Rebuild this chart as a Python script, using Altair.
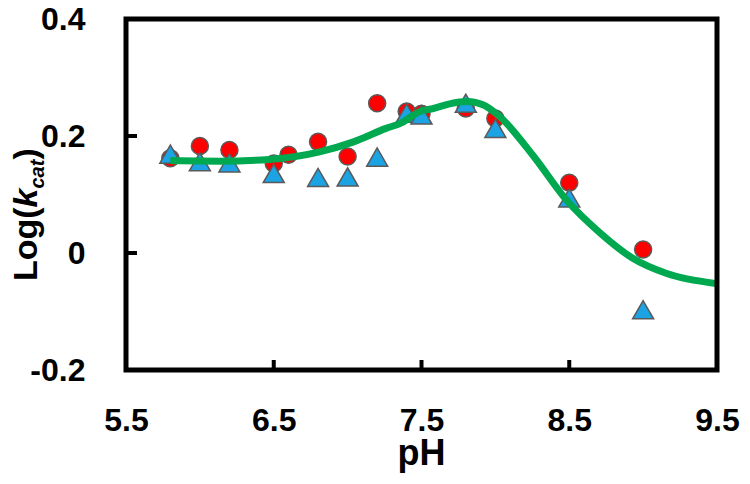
import altair as alt
import pandas as pd

# --- data ---
ph_red = [5.8, 6.0, 6.2, 6.5, 6.6, 6.8, 7.0, 7.2, 7.4, 7.5, 7.8, 8.0, 8.5, 9.0]
logk_red = [0.162, 0.183, 0.176, 0.153, 0.168, 0.190, 0.165, 0.256, 0.242, 0.238, 0.247, 0.230, 0.120, 0.006]

ph_blue = [5.8, 6.0, 6.2, 6.5, 6.8, 7.0, 7.2, 7.4, 7.5, 7.8, 8.0, 8.5, 9.0]
logk_blue = [0.169, 0.156, 0.154, 0.136, 0.129, 0.130, 0.164, 0.239, 0.236, 0.256, 0.213, 0.094, -0.097]

ph_fit = [5.8, 6.14, 6.47, 6.81, 7.04, 7.26, 7.36, 7.49, 7.58, 7.69, 7.81, 7.92, 8.03, 8.26, 8.48, 8.71, 8.93, 9.16, 9.49]
logk_fit = [0.158, 0.157, 0.160, 0.173, 0.190, 0.213, 0.222, 0.242, 0.247, 0.255, 0.259, 0.253, 0.233, 0.165, 0.091, 0.034, -0.009, -0.035, -0.052]

x_ticks = [5.5, 6.5, 7.5, 8.5, 9.5]
y_ticks = [-0.2, 0.0, 0.2, 0.4]

W, H = 591, 351
FONT = "Liberation Sans"

red = pd.DataFrame({"pH": ph_red, "v": logk_red})
blue = pd.DataFrame({"pH": ph_blue, "v": logk_blue})
fit = pd.DataFrame({"pH": ph_fit, "v": logk_fit})
xt = pd.DataFrame({"pH": x_ticks})
yt = pd.DataFrame({"v": y_ticks})
dummy = pd.DataFrame({"d": [0]})

xscale = alt.Scale(domain=[5.5, 9.5], nice=False, zero=False)
yscale = alt.Scale(domain=[-0.2, 0.4], nice=False, zero=False)

xaxis = alt.Axis(values=x_ticks, format=".1f", ticks=False, domain=False, grid=False,
                 labelFlush=False, labelOverlap=False,
                 labelFont=FONT, labelFontSize=32, labelFontWeight="bold", labelColor="black",
                 labelPadding=35, title=None)
yaxis = alt.Axis(values=y_ticks, ticks=False, domain=False, grid=False,
                 labelFlush=False, labelOverlap=False,
                 labelExpr="datum.value == 0 ? '0' : (datum.value < 0 ? '-' + format(-datum.value, '.1f') : format(datum.value, '.1f'))",
                 labelFont=FONT, labelFontSize=32, labelFontWeight="bold", labelColor="black",
                 labelPadding=41, title=None)

circles = alt.Chart(red).mark_point(shape="circle", filled=True, size=290, fill="#FF0000",
                                    stroke="#5A5A5A", strokeWidth=1.5, opacity=1).encode(
    x=alt.X("pH:Q", scale=xscale, axis=xaxis),
    y=alt.Y("v:Q", scale=yscale, axis=yaxis),
)

triangles = alt.Chart(blue).mark_point(shape="triangle-up", filled=True, size=440, fill="#1BA3E3",
                                       stroke="#5A5A5A", strokeWidth=1.5, opacity=1).encode(
    x=alt.X("pH:Q", scale=xscale),
    y=alt.Y("v:Q", scale=yscale),
)

line = alt.Chart(fit).mark_line(color="#00A84F", strokeWidth=7, interpolate="monotone",
                                strokeCap="butt").encode(
    x=alt.X("pH:Q", scale=xscale),
    y=alt.Y("v:Q", scale=yscale),
)

xtick_marks = alt.Chart(xt).mark_rule(color="black", strokeWidth=4).encode(
    x=alt.X("pH:Q", scale=xscale),
    y=alt.value(H), y2=alt.value(H - 10),
)
ytick_marks = alt.Chart(yt).mark_rule(color="black", strokeWidth=4).encode(
    y=alt.Y("v:Q", scale=yscale),
    x=alt.value(0), x2=alt.value(11),
)

frame = alt.Chart(dummy).mark_rect(fill=None, fillOpacity=0, stroke="black", strokeWidth=5,
                                   strokeJoin="miter").encode(
    x=alt.value(0), x2=alt.value(W), y=alt.value(0), y2=alt.value(H))

# axis titles
xtitle = alt.Chart(dummy).mark_text(text="pH", font=FONT, fontSize=36, fontWeight="bold",
                                    align="center", baseline="alphabetic", color="black").encode(
    x=alt.value(W / 2), y=alt.value(446))

yt_parts = [
    ("Log(", 34, "normal", -89, 262),
    ("k", 34, "italic", -89, 188.4),
    ("cat", 20, "italic", -82, 169.5),
    (")", 34, "normal", -89, 140.6),
]
ytitle_layers = []
for txt, fs, style, xx, yy in yt_parts:
    ytitle_layers.append(
        alt.Chart(dummy).mark_text(text=txt, font=FONT, fontSize=fs, fontWeight="bold",
                                   fontStyle=style, angle=270, align="left",
                                   baseline="alphabetic", color="black").encode(
            x=alt.value(xx), y=alt.value(yy))
    )

chart = alt.layer(circles, triangles, line, xtick_marks, ytick_marks, frame, xtitle, *ytitle_layers).properties(
    width=W, height=H,
    autosize=alt.AutoSizeParams(type="none"),
    padding={"left": 118, "top": 11, "right": 25, "bottom": 106},
).configure_view(stroke=None).configure(background="white")

chart.save("out.html", embed_options={"renderer": "svg", "actions": False})
